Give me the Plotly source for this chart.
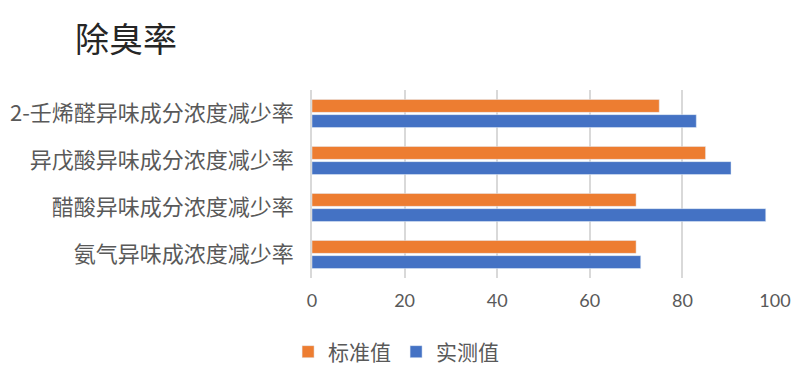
import plotly.graph_objects as go

categories = ["氨气异味成浓度减少率", "醋酸异味成分浓度减少率", "异戊酸异味成分浓度减少率", "2-壬烯醛异味成分浓度减少率"]
standard = [70, 70, 85, 75]
measured = [71, 98, 90.5, 83]

fig = go.Figure()
fig.add_trace(go.Bar(y=categories, x=measured, name="实测值", orientation="h",
                     marker_color="#4472C4", legendrank=2))
fig.add_trace(go.Bar(y=categories, x=standard, name="标准值", orientation="h",
                     marker_color="#ED7D31", legendrank=1))

cjk = "Noto Sans CJK SC"
W, H = 792, 375
fig.update_layout(
    width=W, height=H,
    margin=dict(l=304, r=25, t=82, b=105),
    paper_bgcolor="white", plot_bgcolor="white",
    barmode="group", bargap=0.355, bargroupgap=0.15,
    title=dict(text="除臭率", x=67 / W, xref="container", xanchor="left",
               y=1 - 32 / H, yref="container", yanchor="middle",
               font=dict(family=cjk, size=34, color="#262626")),
    xaxis=dict(range=[0, 100], tickvals=[0, 20, 40, 60, 80, 100],
               showgrid=True, gridcolor="#D9D9D9", gridwidth=1.5,
               zeroline=False, showline=False, ticks="",
               ticklabelstandoff=10, automargin=False,
               tickfont=dict(family="Lato, Open Sans, sans-serif", size=18, color="#595959"),
               fixedrange=True),
    yaxis=dict(showline=True, linecolor="#D9D9D9", linewidth=1.5, ticks="",
               ticklabelstandoff=12, automargin=False,
               tickfont=dict(family=cjk, size=22, color="#595959"),
               fixedrange=True),
    showlegend=True,
    legend=dict(orientation="h", xref="container", yref="container",
                x=0.49, xanchor="center", y=1 - 344 / H, yanchor="middle",
                font=dict(family=cjk, size=21, color="#595959"),
                itemwidth=30, tracegroupgap=0),
)

fig.write_html("out.html")
